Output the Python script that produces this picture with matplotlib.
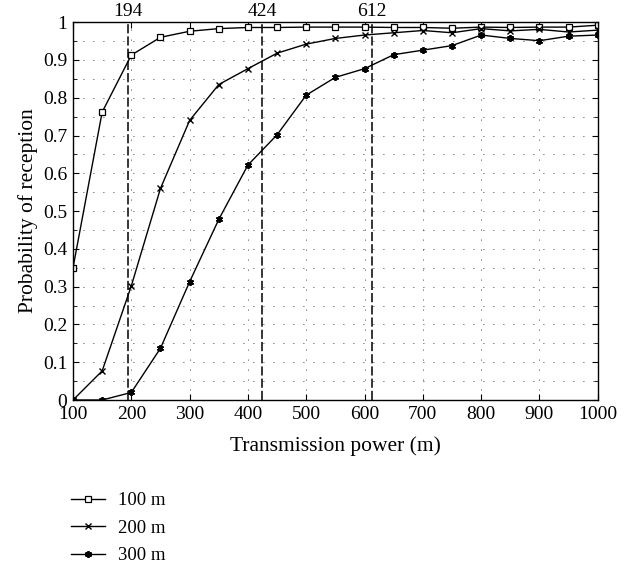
import matplotlib
matplotlib.use("Agg")
import matplotlib.pyplot as plt
import numpy as np

plt.rcParams["font.family"] = ["Liberation Serif", "DejaVu Serif"]

power = [100, 150, 200, 250, 300, 350, 400, 450, 500, 550,
         600, 650, 700, 750, 800, 850, 900, 950, 1000]
prob_100m = [0.35, 0.762, 0.913, 0.96, 0.976, 0.983, 0.986, 0.986, 0.987, 0.987,
             0.987, 0.986, 0.986, 0.984, 0.987, 0.986, 0.987, 0.987, 0.992]
prob_200m = [0.0, 0.077, 0.302, 0.56, 0.74, 0.835, 0.877, 0.918, 0.942, 0.957,
             0.966, 0.972, 0.978, 0.972, 0.983, 0.977, 0.981, 0.974, 0.979]
prob_300m = [0.0, 0.0, 0.02, 0.137, 0.313, 0.478, 0.622, 0.702, 0.807, 0.854,
             0.877, 0.914, 0.926, 0.938, 0.966, 0.957, 0.951, 0.963, 0.966]
thresholds = [194, 424, 612]
series_labels = ["100 m", "200 m", "300 m"]

fig = plt.figure(figsize=(6.24, 5.69), dpi=100)
ax = fig.add_axes([0.117, 0.297, 0.841, 0.664])

ax.plot(power, prob_100m, color="black", lw=1.0, marker="s", ms=5,
        mfc="white", mec="black", mew=0.9, label=series_labels[0])
ax.plot(power, prob_200m, color="black", lw=1.0, marker="x", ms=5,
        mew=1.0, label=series_labels[1])
ax.plot(power, prob_300m, color="black", lw=1.0, marker=(6, 2, 0), ms=5,
        mew=1.3, label=series_labels[2])

# threshold markers with labels above the frame
for t in thresholds:
    ax.axvline(t, color="black", lw=1.1, ls=(0, (6, 2)))
    ax.text(t, 1.006, str(t), ha="center", va="bottom", fontsize=14,
            transform=ax.get_xaxis_transform())

ax.set_xlim(100, 1000)
ax.set_ylim(0, 1)
ax.set_xticks(np.arange(100, 1001, 100))
ax.set_yticks(np.arange(0, 1.01, 0.1))
ax.set_yticks(np.arange(0, 1.01, 0.05), minor=True)
ax.set_yticklabels(["0", "0.1", "0.2", "0.3", "0.4", "0.5", "0.6",
                    "0.7", "0.8", "0.9", "1"])
ax.tick_params(direction="in", top=True, right=True, labelsize=14, length=4, pad=4)
ax.tick_params(which="minor", direction="in", right=True, left=True, length=3)
ax.grid(True, which="both", axis="y", color="black", lw=0.6, ls=(0, (1, 11)))
ax.grid(True, which="major", axis="x", color="black", lw=0.6, ls=(0, (1, 11)))
for s in ax.spines.values():
    s.set_linewidth(1.0)

ax.set_xlabel("Transmission power (m)", fontsize=15.5, labelpad=10)
ax.set_ylabel("Probability of reception", fontsize=15.5, labelpad=4)

handles, labels = ax.get_legend_handles_labels()
fig.legend(handles, labels, loc="upper left", bbox_to_anchor=(0.114, 0.135),
           frameon=False, fontsize=13.5, handlelength=1.8, labelspacing=0.55,
           handletextpad=0.7, borderpad=0, borderaxespad=0)

fig.savefig("out.png", dpi=100)
